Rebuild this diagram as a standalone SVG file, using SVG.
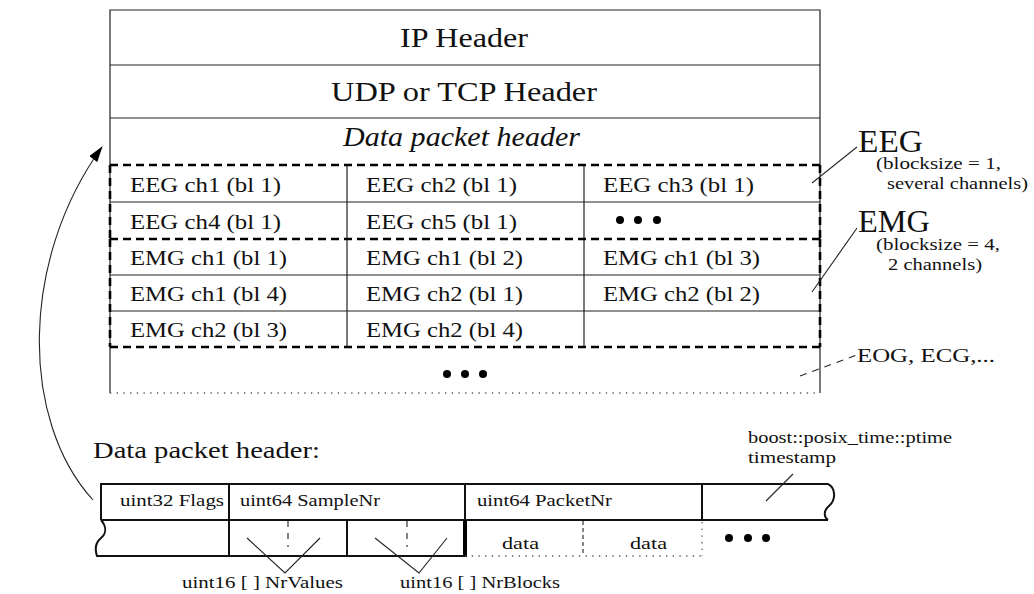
<svg xmlns="http://www.w3.org/2000/svg" width="1034" height="594" viewBox="0 0 1034 594">
  <defs>
    <marker id="arrowhead" viewBox="0 0 16 10" refX="15" refY="5" markerWidth="16" markerHeight="10" markerUnits="userSpaceOnUse" orient="auto">
      <path d="M0,0 L16,5 L0,10 z" fill="#000"/>
    </marker>
    <style>
      text { font-family: "Liberation Serif", "Times New Roman", serif; fill: #111; }
      .hdr { font-size: 28px; }
      .cell { font-size: 22px; }
      .big { font-size: 32px; }
      .note { font-size: 17px; }
      .small { font-size: 17px; }
      .thin { stroke: #222; stroke-width: 1.2; fill: none; }
      .grp { stroke: #000; stroke-width: 2.6; stroke-dasharray: 8 5; fill: none; }
      .dots { stroke: #555; stroke-width: 1.3; stroke-dasharray: 1.3 5.4; fill: none; }
      .bold { stroke: #111; stroke-width: 2; fill: none; }
      .leader { stroke: #222; stroke-width: 1.1; fill: none; }
      .dot { fill: #000; }
    </style>
  </defs>

  <!-- packet frame -->
  <g id="packet">
    <path class="thin" d="M110,393 V10 H820 V393"/>
    <path class="thin" d="M110,65 H820 M110,118 H820"/>
    <path class="dots" d="M110,393 H820"/>
  </g>

  <g id="ip-header">
    <text class="hdr" x="400" y="47" textLength="128" lengthAdjust="spacingAndGlyphs">IP Header</text>
  </g>
  <g id="transport-header">
    <text class="hdr" x="331" y="101" textLength="266" lengthAdjust="spacingAndGlyphs">UDP or TCP Header</text>
  </g>
  <g id="data-packet-header">
    <text class="hdr" x="343" y="146" font-style="italic" textLength="237" lengthAdjust="spacingAndGlyphs">Data packet header</text>
  </g>

  <!-- payload cell grid -->
  <g id="payload-grid">
    <path class="thin" d="M110,202 H820 M110,275 H820 M110,311 H820"/>
    <path class="thin" d="M347,165 V347 M584,165 V347"/>
  </g>

  <!-- EEG block -->
  <g id="eeg-block">
    <path class="grp" d="M110,165 H820 M110,239 H820 M110,165 V239 M820,165 V239"/>
    <text class="cell" x="130" y="192" textLength="151" lengthAdjust="spacingAndGlyphs">EEG ch1 (bl 1)</text>
    <text class="cell" x="366" y="192" textLength="151" lengthAdjust="spacingAndGlyphs">EEG ch2 (bl 1)</text>
    <text class="cell" x="603" y="192" textLength="151" lengthAdjust="spacingAndGlyphs">EEG ch3 (bl 1)</text>
    <text class="cell" x="130" y="229" textLength="151" lengthAdjust="spacingAndGlyphs">EEG ch4 (bl 1)</text>
    <text class="cell" x="366" y="229" textLength="151" lengthAdjust="spacingAndGlyphs">EEG ch5 (bl 1)</text>
    <circle class="dot" cx="620" cy="220" r="4"/>
    <circle class="dot" cx="638" cy="220" r="4"/>
    <circle class="dot" cx="657" cy="220" r="4"/>
  </g>

  <!-- EMG block -->
  <g id="emg-block">
    <path class="grp" d="M110,347 H820 M110,239 V347 M820,239 V347"/>
    <text class="cell" x="130" y="265" textLength="157" lengthAdjust="spacingAndGlyphs">EMG ch1 (bl 1)</text>
    <text class="cell" x="366" y="265" textLength="157" lengthAdjust="spacingAndGlyphs">EMG ch1 (bl 2)</text>
    <text class="cell" x="603" y="265" textLength="157" lengthAdjust="spacingAndGlyphs">EMG ch1 (bl 3)</text>
    <text class="cell" x="130" y="301" textLength="157" lengthAdjust="spacingAndGlyphs">EMG ch1 (bl 4)</text>
    <text class="cell" x="366" y="301" textLength="157" lengthAdjust="spacingAndGlyphs">EMG ch2 (bl 1)</text>
    <text class="cell" x="603" y="301" textLength="157" lengthAdjust="spacingAndGlyphs">EMG ch2 (bl 2)</text>
    <text class="cell" x="130" y="337" textLength="157" lengthAdjust="spacingAndGlyphs">EMG ch2 (bl 3)</text>
    <text class="cell" x="366" y="337" textLength="157" lengthAdjust="spacingAndGlyphs">EMG ch2 (bl 4)</text>
  </g>

  <!-- further signal types -->
  <g id="more-signals">
    <circle class="dot" cx="447" cy="374" r="4"/>
    <circle class="dot" cx="465" cy="374" r="4"/>
    <circle class="dot" cx="483" cy="374" r="4"/>
  </g>

  <!-- side annotations -->
  <g id="eeg-label">
    <text class="big" x="858" y="152" textLength="65" lengthAdjust="spacingAndGlyphs">EEG</text>
    <text class="note" x="876" y="169" textLength="125" lengthAdjust="spacingAndGlyphs">(blocksize = 1,</text>
    <text class="note" x="887" y="189" textLength="141" lengthAdjust="spacingAndGlyphs">several channels)</text>
  </g>
  <g id="emg-label">
    <text class="big" x="858" y="232" textLength="72" lengthAdjust="spacingAndGlyphs">EMG</text>
    <text class="note" x="876" y="250" textLength="124" lengthAdjust="spacingAndGlyphs">(blocksize = 4,</text>
    <text class="note" x="888" y="270" textLength="94" lengthAdjust="spacingAndGlyphs">2 channels)</text>
  </g>
  <g id="other-label">
    <text x="857" y="362" font-size="19" textLength="138" lengthAdjust="spacingAndGlyphs">EOG, ECG,...</text>
  </g>

  <!-- header layout -->
  <g id="header-title">
    <text x="93" y="458" font-size="24" textLength="227" lengthAdjust="spacingAndGlyphs">Data packet header:</text>
  </g>

  <g id="header-table">
    <path class="bold" d="M101,520 V484 H828"/>
    <path class="bold" d="M828,484 C836,488 836,500 829,506 C823,511 824,517 828,520"/>
    <path class="bold" d="M101,520 H828"/>
    <path class="bold" d="M101,520 C106,526 107,533 101,538 C95,543 95,550 97,556 H465"/>
    <path class="bold" d="M229,484 V556 M465,484 V520 M702,484 V520 M347,520 V556"/>
    <path stroke="#000" stroke-width="4" d="M465,520 V557"/>
    <path class="dots" d="M465,556 H702 M702,522 V556"/>
    <path class="leader" stroke-dasharray="4 3" d="M583,521 V556"/>
    <path class="leader" stroke-dasharray="6 6" d="M288,521 V547 M407,521 V547"/>
  </g>

  <g id="field-flags">
    <text class="small" x="120" y="506" textLength="104" lengthAdjust="spacingAndGlyphs">uint32 Flags</text>
  </g>
  <g id="field-samplenr">
    <text class="small" x="240" y="506" textLength="140" lengthAdjust="spacingAndGlyphs">uint64 SampleNr</text>
  </g>
  <g id="field-packetnr">
    <text class="small" x="477" y="506" textLength="135" lengthAdjust="spacingAndGlyphs">uint64 PacketNr</text>
  </g>
  <g id="field-data">
    <text class="small" x="502" y="549" textLength="37" lengthAdjust="spacingAndGlyphs">data</text>
    <text class="small" x="630" y="549" textLength="37" lengthAdjust="spacingAndGlyphs">data</text>
    <circle class="dot" cx="729" cy="538" r="4"/>
    <circle class="dot" cx="748" cy="538" r="4"/>
    <circle class="dot" cx="766" cy="538" r="4"/>
  </g>
  <g id="field-timestamp">
    <text x="748" y="443" font-size="16" textLength="204" lengthAdjust="spacingAndGlyphs">boost::posix_time::ptime</text>
    <text x="748" y="463" font-size="16" textLength="88" lengthAdjust="spacingAndGlyphs">timestamp</text>
  </g>
  <g id="field-nrvalues">
    <text class="small" x="182" y="588" textLength="161" lengthAdjust="spacingAndGlyphs">uint16 [ ] NrValues</text>
  </g>
  <g id="field-nrblocks">
    <text class="small" x="400" y="588" textLength="160" lengthAdjust="spacingAndGlyphs">uint16 [ ] NrBlocks</text>
  </g>

  <!-- connectors -->
  <g id="connectors">
    <path class="leader" stroke="#111" stroke-width="1.3" d="M93,500 C20,420 20,260 102,147" marker-end="url(#arrowhead)"/>
    <path class="leader" d="M812,183 L857,147"/>
    <path class="leader" d="M812,292 L857,228"/>
    <path class="leader" stroke-dasharray="7 6" d="M800,376 L857,355"/>
    <path class="leader" d="M766,501 L793,474"/>
    <path class="leader" d="M247,538 L285,573 L320,538"/>
    <path class="leader" d="M375,538 L419,573 L447,538"/>
  </g>
</svg>
